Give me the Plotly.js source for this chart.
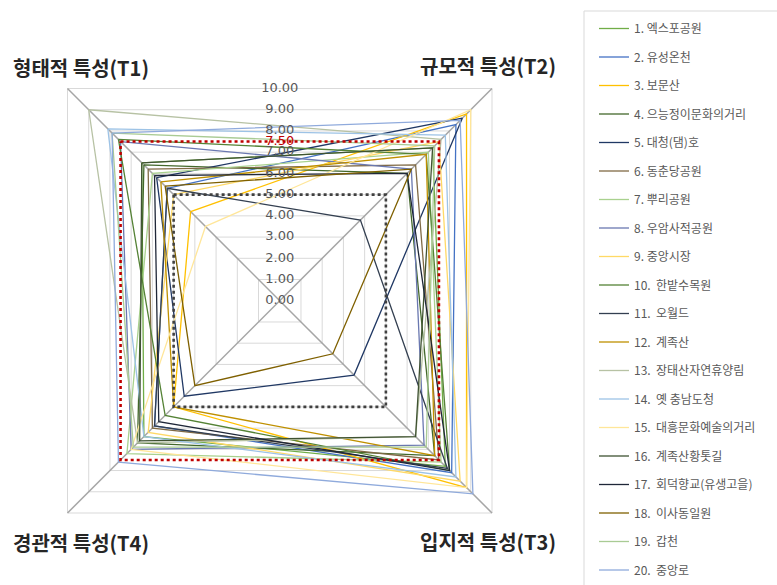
<!DOCTYPE html>
<html><head><meta charset="utf-8">
<script src="https://cdn.plot.ly/plotly-3.0.1.min.js"></script>
<style>html,body{margin:0;padding:0;background:#fff;overflow:hidden}#chart{width:777px;height:585px}</style>
</head><body><div id="chart"></div>
<script>
const axisNames = ['형태적 특성(T1)', '규모적 특성(T2)', '입지적 특성(T3)', '경관적 특성(T4)'];
const siteNames = ['1. 엑스포공원', '2. 유성온천', '3. 보문산', '4. 으능정이문화의거리', '5. 대청(댐)호',
  '6. 동춘당공원', '7. 뿌리공원', '8. 우암사적공원', '9. 중앙시장', '10.  한밭수목원',
  '11.  오월드', '12.  계족산', '13.  장태산자연휴양림', '14.  옛 충남도청', '15.  대흥문화예술의거리',
  '16.  계족산황톳길', '17.  회덕향교(유생고을)', '18.  이사동일원', '19.  갑천', '20.  중앙로'];
const t1Values = [6.5, 5.3, 4.2, 6.4, 5.8, 6.2, 6.0, 7.5, 5.0, 7.6, 5.3, 5.6, 9.0, 8.1, 3.5, 6.5, 5.9, 5.4, 7.9, 7.9];
const t2Values = [7.2, 8.3, 8.8, 6.0, 8.6, 6.4, 7.0, 6.2, 7.5, 6.9, 3.8, 6.9, 7.6, 7.8, 9.0, 7.2, 6.0, 6.2, 7.3, 8.5];
const t3Values = [7.8, 8.1, 8.8, 7.3, 3.5, 7.5, 7.6, 6.8, 8.5, 8.0, 7.9, 7.3, 6.4, 8.3, 8.8, 6.4, 8.0, 2.5, 6.9, 9.1];
const t4Values = [6.4, 5.9, 5.0, 6.7, 4.5, 6.0, 7.2, 7.0, 6.2, 5.4, 5.9, 5.0, 6.7, 6.4, 7.0, 6.6, 5.7, 4.0, 6.9, 7.6];
const seriesColors = ['#70AD47', '#4472C4', '#FFC000', '#43682B', '#203864', '#806A45', '#A9D18E', '#6A78B0', '#FFD966', '#548235',
  '#333F50', '#BF9000', '#B7C2A4', '#9DC3E6', '#FFE699', '#3F5232', '#1F2738', '#7F6000', '#A9CB94', '#8FAADC'];
const tickValues = [0, 1, 2, 3, 4, 5, 6, 7, 8, 9, 10];
const referenceLevels = [7.5, 5.0];
const referenceColors = ['#C00000', '#404040'];

// direction of each radar axis in the x/y plane (T1 top-left, clockwise)
const dirs = [[-1, 1], [1, 1], [1, -1], [-1, -1]];
function ring(vals) {
  const x = vals.map((v, i) => dirs[i][0] * v);
  const y = vals.map((v, i) => dirs[i][1] * v);
  x.push(x[0]); y.push(y[0]);
  return {x, y};
}

const traces = [];
// grid squares
tickValues.filter(v => v > 0).forEach(v => {
  const r = ring([v, v, v, v]);
  traces.push({type: 'scatter', mode: 'lines', x: r.x, y: r.y, showlegend: false, hoverinfo: 'skip',
    line: {color: '#D9D9D9', width: 1}});
});
// spokes
dirs.forEach(d => {
  traces.push({type: 'scatter', mode: 'lines', x: [0, d[0] * tickValues[tickValues.length - 1]],
    y: [0, d[1] * tickValues[tickValues.length - 1]], showlegend: false, hoverinfo: 'skip',
    line: {color: '#A6A6A6', width: 1.5}});
});
// series
siteNames.forEach((name, i) => {
  const r = ring([t1Values[i], t2Values[i], t3Values[i], t4Values[i]]);
  traces.push({type: 'scatter', mode: 'lines', name: name, x: r.x, y: r.y, legendgroup: 'g' + i,
    line: {color: seriesColors[i], width: 1.3}});
});
// reference squares
referenceLevels.forEach((v, k) => {
  const r = ring([v, v, v, v]);
  traces.push({type: 'scatter', mode: 'lines', x: r.x, y: r.y, showlegend: false, hoverinfo: 'skip',
    line: {color: referenceColors[k], width: 2.6, dash: 'dot'}});
});
// radial tick labels
traces.push({type: 'scatter', mode: 'text', x: tickValues.map(() => 0), y: tickValues,
  text: tickValues.map(v => v.toFixed(2)), textposition: 'middle center', showlegend: false, hoverinfo: 'skip',
  textfont: {family: 'DejaVu Sans', size: 13, color: '#595959'}});
traces.push({type: 'scatter', mode: 'text', x: [0], y: [referenceLevels[0]],
  text: [referenceLevels[0].toFixed(2)], textposition: 'middle center', showlegend: false, hoverinfo: 'skip',
  textfont: {family: 'DejaVu Sans', size: 13, color: '#C00000'}});

const cx = 279.75, cy = 300.75, s = 21.225, W = 777, H = 585;
const labelPos = [[81, 67], [487.5, 65], [488, 541], [80.5, 542]];
const annotations = axisNames.map((t, i) => ({
  text: t, x: (labelPos[i][0] - cx) / s, y: (cy - labelPos[i][1]) / s, xref: 'x', yref: 'y',
  showarrow: false, xanchor: 'center', yanchor: 'middle',
  font: {family: 'Noto Sans CJK KR', size: 20, color: '#262626', weight: 700}
}));

const layout = {
  width: W, height: H, margin: {l: 0, r: 0, t: 0, b: 0},
  paper_bgcolor: '#fff', plot_bgcolor: '#fff', hovermode: false,
  xaxis: {visible: false, range: [-cx / s, (W - cx) / s], fixedrange: true},
  yaxis: {visible: false, range: [(cy - H) / s, cy / s], fixedrange: true},
  showlegend: true,
  legend: {x: 594 / W, xanchor: 'left', y: 1 - 14 / H, yanchor: 'top', bgcolor: 'rgba(0,0,0,0)',
    borderwidth: 0, tracegroupgap: 9.5, itemclick: false, itemdoubleclick: false,
    font: {family: 'Noto Sans CJK KR', size: 12, color: '#595959'}},
  shapes: [{type: 'rect', xref: 'paper', yref: 'paper', x0: 584 / W, x1: 1.01, y0: -0.01, y1: 1 - 11 / H,
    line: {color: '#D9D9D9', width: 1}, fillcolor: 'rgba(0,0,0,0)', layer: 'below'}],
  annotations: annotations
};
Plotly.newPlot('chart', traces, layout, {displayModeBar: false, staticPlot: true});
</script></body></html>
